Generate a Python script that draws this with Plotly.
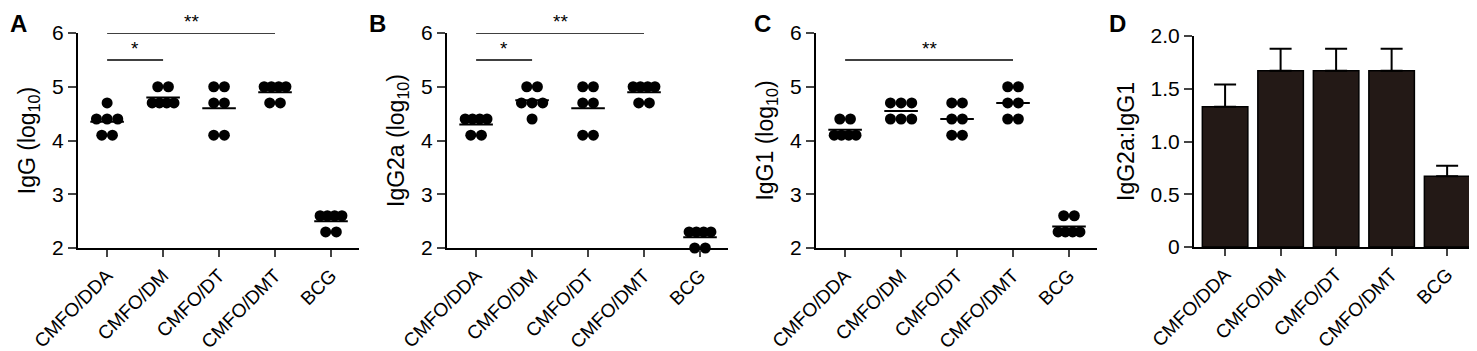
import plotly.graph_objects as go
from collections import Counter

categories = ["CMFO/DDA", "CMFO/DM", "CMFO/DT", "CMFO/DMT", "BCG"]

igg = [[4.7, 4.4, 4.4, 4.4, 4.1, 4.1],
       [5.0, 5.0, 4.7, 4.7, 4.7, 4.7],
       [5.0, 5.0, 4.7, 4.7, 4.1, 4.1],
       [5.0, 5.0, 5.0, 5.0, 4.7, 4.7],
       [2.6, 2.6, 2.6, 2.6, 2.3, 2.3]]
igg2a = [[4.4, 4.4, 4.4, 4.4, 4.1, 4.1],
         [5.0, 5.0, 4.7, 4.7, 4.7, 4.4],
         [5.0, 5.0, 4.7, 4.7, 4.1, 4.1],
         [5.0, 5.0, 5.0, 5.0, 4.7, 4.7],
         [2.3, 2.3, 2.3, 2.3, 2.0, 2.0]]
igg1 = [[4.4, 4.4, 4.1, 4.1, 4.1, 4.1],
        [4.7, 4.7, 4.7, 4.4, 4.4, 4.4],
        [4.7, 4.7, 4.4, 4.4, 4.1, 4.1],
        [5.0, 5.0, 4.7, 4.7, 4.4, 4.4],
        [2.6, 2.6, 2.3, 2.3, 2.3, 2.3]]
ratio_mean = [1.33, 1.67, 1.67, 1.67, 0.67]
ratio_sem = [0.21, 0.21, 0.21, 0.21, 0.10]

panel_letters = ["A", "B", "C", "D"]
y_titles = ["IgG (log<sub>10</sub>)", "IgG2a (log<sub>10</sub>)", "IgG1 (log<sub>10</sub>)", "IgG2a:IgG1"]
# significance: (panel index, from group, to group, y level, label)
sig_marks = [(0, 0, 1, 5.5, "*"), (0, 0, 3, 6.0, "**"),
             (1, 0, 1, 5.5, "*"), (1, 0, 3, 6.0, "**"),
             (2, 0, 3, 5.5, "**")]

FONT = "Liberation Sans, Arial, sans-serif"
OFF = 8  # page body margin
W, H = 1477 - OFF, 351 - OFF
x_px = [(78, 359), (447, 728), (816, 1097), (1194, 1476)]
y_px = [(33, 248), (33, 248), (33, 248), (36, 247)]

fig = go.Figure()


def spread(vals):
    cnt = Counter(vals)
    seen = Counter()
    offs = []
    for v in vals:
        n = cnt[v]
        step = 0.19 if n < 4 else 0.13
        k = seen[v]
        seen[v] += 1
        offs.append((k - (n - 1) / 2) * step)
    return offs


for p, data in enumerate([igg, igg2a, igg1]):
    xa = "x" if p == 0 else f"x{p+1}"
    ya = "y" if p == 0 else f"y{p+1}"
    xs, ys = [], []
    for i, vals in enumerate(data):
        offs = spread(vals)
        xs += [i + o for o in offs]
        ys += vals
    fig.add_trace(go.Scatter(x=xs, y=ys, mode="markers", xaxis=xa, yaxis=ya,
                             marker=dict(size=11, color="black"), cliponaxis=False,
                             showlegend=False))
    lx, ly = [], []
    for i, vals in enumerate(data):
        m = sum(vals) / len(vals)
        lx += [i - 0.3, i + 0.3, None]
        ly += [m, m, None]
    fig.add_trace(go.Scatter(x=lx, y=ly, mode="lines", xaxis=xa, yaxis=ya,
                             line=dict(color="black", width=2), cliponaxis=False,
                             showlegend=False))

fig.add_trace(go.Bar(x=list(range(5)), y=ratio_mean, xaxis="x4", yaxis="y4",
                     width=0.82, marker=dict(color="#231916", line=dict(color="black", width=1.5)),
                     error_y=dict(type="data", array=ratio_sem, arrayminus=[0] * 5, symmetric=False,
                                  width=11, thickness=2, color="black"),
                     showlegend=False))

layout = dict(width=W, height=H, margin=dict(l=0, r=0, t=0, b=0, autoexpand=False),
              plot_bgcolor="white", paper_bgcolor="white",
              font=dict(family=FONT, color="black"))

for p in range(4):
    sfx = "" if p == 0 else str(p + 1)
    x0, x1 = x_px[p][0] - OFF, x_px[p][1] - OFF
    yt, yb = y_px[p][0] - OFF, y_px[p][1] - OFF
    xr = [-0.52, 4.5] if p < 3 else [-0.56, 4.52]
    layout["xaxis" + sfx] = dict(domain=[x0 / W, min(x1 / W, 1)], range=xr, anchor="y" + sfx,
                                 tickmode="array", tickvals=list(range(5)), ticktext=categories,
                                 tickangle=-45, ticks="outside", ticklen=7, tickwidth=2,
                                 showline=True, linewidth=2, linecolor="black",
                                 showgrid=False, zeroline=False, automargin=False,
                                 tickfont=dict(size=19, family=FONT, color="black"))
    if p < 3:
        yr = [2, 6]
        tv = [2, 3, 4, 5, 6]
        tt = ["2", "3", "4", "5", "6"]
    else:
        yr = [0, 2]
        tv = [0, 0.5, 1.0, 1.5, 2.0]
        tt = ["0", "0.5", "1.0", "1.5", "2.0"]
    layout["yaxis" + sfx] = dict(domain=[(H - yb) / H, (H - yt) / H], range=yr, anchor="x" + sfx,
                                 tickmode="array", tickvals=tv, ticktext=tt,
                                 ticks="outside", ticklen=8, tickwidth=2,
                                 showline=True, linewidth=2, linecolor="black",
                                 showgrid=False, zeroline=False, automargin=False,
                                 tickfont=dict(size=21, family=FONT, color="black"),
                                 title=dict(text=y_titles[p], standoff=10,
                                            font=dict(size=23, family=FONT, color="black")))

fig.update_layout(**layout)

letter_x = [0, 367, 752, 1107]
for p, L in enumerate(panel_letters):
    fig.add_annotation(x=max(letter_x[p] - OFF, 0) / W, y=1, xref="paper", yref="paper",
                       text=f"<b>{L}</b>", showarrow=False, xanchor="left", yanchor="top",
                       font=dict(size=24, family=FONT, color="black"))

for (p, a, b, yv, lab) in sig_marks:
    sfx = "" if p == 0 else str(p + 1)
    fig.add_shape(type="line", x0=a, x1=b, y0=yv, y1=yv, xref="x" + sfx, yref="y" + sfx,
                  line=dict(color="black", width=1.5))
    fig.add_annotation(x=(a + b) / 2, y=yv, xref="x" + sfx, yref="y" + sfx, text=lab,
                       showarrow=False, yanchor="bottom", yshift=-1,
                       font=dict(size=19, family=FONT, color="black"))

fig.write_html("out.html")
